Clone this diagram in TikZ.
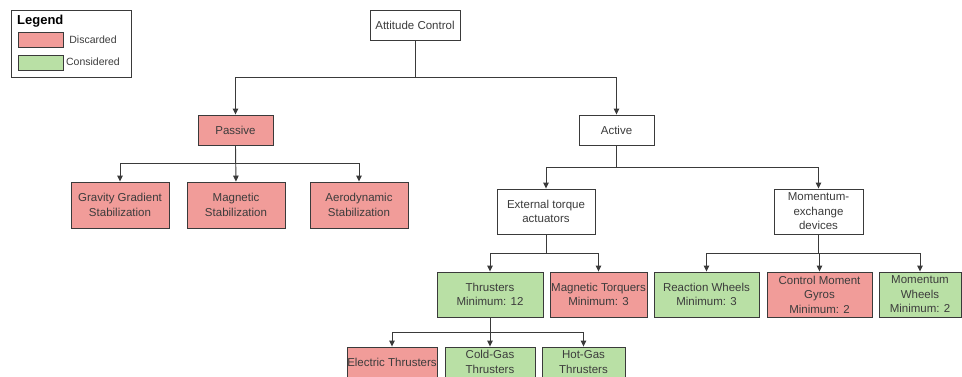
\documentclass[tikz,border=0pt]{standalone}
\usepackage{fontspec}
\setmainfont{Liberation Sans}
\usetikzlibrary{arrows.meta}
\definecolor{discard}{HTML}{F19C99}
\definecolor{consider}{HTML}{B9E0A5}
\definecolor{ink}{HTML}{3C3C3C}
\definecolor{edge}{HTML}{3A3A3A}
\begin{document}
\begin{tikzpicture}[x=1pt,y=-1pt,
  every node/.style={font=\fontsize{11.5}{14.5}\selectfont, text=ink, align=center, inner sep=0pt},
  plainbox/.style={draw=edge, fill=white, line width=0.9pt},
  discardbox/.style={plainbox, fill=discard},
  considerbox/.style={plainbox, fill=consider},
  conn/.style={draw=edge, line width=0.9pt, -{Triangle[length=6pt,width=5.5pt]}}
]
\useasboundingbox (0,0) rectangle (962,376);

% legend
\node[plainbox, minimum width=120pt, minimum height=67pt, anchor=north west] (legend) at (11,10) {};
\node[anchor=west, font=\bfseries\fontsize{13}{15}\selectfont, text=black] (legtitle) at (17,21) {Legend};
\node[discardbox, minimum width=45pt, minimum height=15pt, anchor=north west] (legred) at (18,32) {};
\node[considerbox, minimum width=45pt, minimum height=15pt, anchor=north west] (leggreen) at (18,55) {};
\node[font=\fontsize{10.5}{12}\selectfont] (legredtxt) at (93,40) {Discarded};
\node[font=\fontsize{10.5}{12}\selectfont] (leggreentxt) at (93,62) {Considered};

% tree nodes
\node[plainbox, minimum width=90pt, minimum height=30pt] (att) at (415,25) {Attitude Control};
\node[discardbox, minimum width=75pt, minimum height=30pt] (pas) at (235.5,130) {Passive};
\node[plainbox, minimum width=75pt, minimum height=30pt] (act) at (616.5,130) {Active};

\node[discardbox, minimum width=98pt, minimum height=46pt] (grav) at (120,205) {Gravity Gradient\\Stabilization};
\node[discardbox, minimum width=98pt, minimum height=46pt] (mag) at (236,205) {Magnetic\\Stabilization};
\node[discardbox, minimum width=98pt, minimum height=46pt] (aero) at (359,205) {Aerodynamic\\Stabilization};

\node[plainbox, minimum width=98pt, minimum height=45pt] (ext) at (546,211.5) {External torque\\actuators};
\node[plainbox, minimum width=89pt, minimum height=45pt] (mex) at (818.5,211.5) {Momentum-\\exchange\\devices};

\node[considerbox, minimum width=106pt, minimum height=45pt] (thr) at (490,294.5) {Thrusters\\Minimum: 12};
\node[discardbox, minimum width=97pt, minimum height=45pt] (mtq) at (598.5,294.5) {Magnetic Torquers\\Minimum: 3};
\node[considerbox, minimum width=105pt, minimum height=45pt] (rw) at (706.5,294.5) {Reaction Wheels\\Minimum: 3};
\node[discardbox, minimum width=105pt, minimum height=45pt] (cmg) at (819.5,294.5) {Control Moment\\Gyros\\Minimum: 2};
\node[considerbox, minimum width=82pt, minimum height=45pt] (mw) at (920,294.5) {Momentum\\Wheels\\Minimum: 2};

\node[discardbox, minimum width=90pt, minimum height=30pt] (elec) at (392,362) {Electric Thrusters};
\node[considerbox, minimum width=90pt, minimum height=30pt] (cold) at (490,362) {Cold-Gas\\Thrusters};
\node[considerbox, minimum width=83pt, minimum height=30pt] (hot) at (583.5,362) {Hot-Gas\\Thrusters};

% connectors
\draw[conn] (att.south) -- ++(0,37) -| (pas.north);
\draw[conn] (att.south) -- ++(0,37) -| (act.north);

\draw[conn] (pas.south) -- ++(0,18) -| (grav.north);
\draw[conn] (pas.south) -- (mag.north);
\draw[conn] (pas.south) -- ++(0,18) -| (aero.north);

\draw[conn] (act.south) -- ++(0,22) -| (ext.north);
\draw[conn] (act.south) -- ++(0,22) -| (mex.north);

\draw[conn] (ext.south) -- ++(0,19) -| (thr.north);
\draw[conn] (ext.south) -- ++(0,19) -| (mtq.north);

\draw[conn] (mex.south) -- ++(0,19) -| (rw.north);
\draw[conn] (mex.south) -- ++(0,19) -| (cmg.north);
\draw[conn] (mex.south) -- ++(0,19) -| (mw.north);

\draw[conn] (thr.south) -- ++(0,15) -| (elec.north);
\draw[conn] (thr.south) -- (cold.north);
\draw[conn] (thr.south) -- ++(0,15) -| (hot.north);
\end{tikzpicture}
\end{document}
